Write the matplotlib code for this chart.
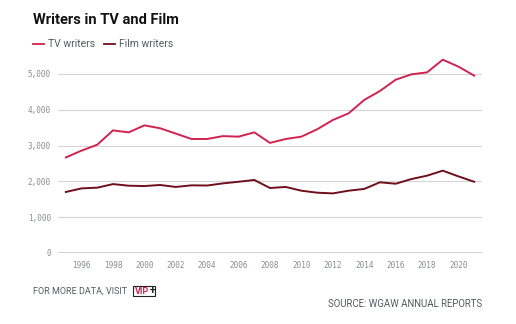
import matplotlib
matplotlib.use("Agg")
import matplotlib.pyplot as plt
from matplotlib.lines import Line2D

years = list(range(1995, 2022))
tv_writers = [2670, 2860, 3025, 3425, 3370, 3565, 3485, 3335, 3185, 3185, 3265, 3250, 3370,
              3075, 3185, 3250, 3455, 3715, 3900, 4275, 4525, 4840, 4990, 5045, 5400, 5205, 4955]
film_writers = [1705, 1805, 1825, 1925, 1880, 1870, 1900, 1845, 1890, 1885, 1945, 1990, 2040,
                1815, 1845, 1740, 1685, 1665, 1740, 1790, 1975, 1935, 2065, 2160, 2300, 2140, 1990]
x_ticks = list(range(1996, 2021, 2))
y_ticks = [0, 1000, 2000, 3000, 4000, 5000]
series_names = ["TV writers", "Film writers"]
colors = ["#d0234f", "#6e0f1c"]

W, H = 516, 324
fig = plt.figure(figsize=(W/100, H/100), dpi=100)
ax = fig.add_axes([58/W, 1-253/H, (482-58)/W, (253-45)/H])

ax.plot(years, tv_writers, color=colors[0], lw=1.4, solid_joinstyle="round")
ax.plot(years, film_writers, color=colors[1], lw=1.4, solid_joinstyle="round")

ax.set_xlim(1994.5, 2021.5)
ymax = 5000 * (253-45) / (253-74)
ax.set_ylim(0, ymax)
ax.set_yticks(y_ticks)
ax.set_yticklabels([f"{v:,}" for v in y_ticks], family="DejaVu Sans Mono", fontsize=5.5, color="#888c94")
ax.set_xticks(x_ticks)
ax.set_xticklabels([str(v) for v in x_ticks], family="DejaVu Sans Mono", fontsize=5.5, color="#888c94")
ax.tick_params(axis="both", length=0)
ax.tick_params(axis="y", pad=5)
ax.tick_params(axis="x", pad=6)
for v in y_ticks[1:]:
    ax.axhline(v, color="#d4d4d4", lw=0.8, zorder=0)
ax.axhline(0, color="#222222", lw=1.0)
for s in ax.spines.values():
    s.set_visible(False)
ax.set_facecolor("none")

fig.text(33/W, 1-20/H, "Writers in TV and Film", fontsize=10.5, fontweight="bold",
         family="Roboto", va="center", ha="left", color="#111111")

# legend
for name, c, xs in zip(series_names, colors, [33, 104]):
    fig.add_artist(Line2D([xs/W, (xs+11)/W], [1-44/H, 1-44/H], color=c, lw=1.3))
    fig.text((xs+15)/W, 1-44/H, name, fontsize=7.5, family="Roboto", color="#555a62",
             va="center", ha="left")

fig.text(33/W, 1-291/H, "FOR MORE DATA, VISIT", fontsize=6.5, family="Roboto",
         color="#555a62", va="center", ha="left")
t1 = fig.text(135/W, 1-291/H, "VIP", fontsize=6.5, family="Roboto", fontweight="bold",
              color="#d0234f", va="center", ha="left")
fig.canvas.draw()
bb = t1.get_window_extent()
fig.text((bb.x1 + 0.5)/W, 1-291/H, "+", fontsize=7.5, family="Roboto", fontweight="bold",
         color="#222222", va="center", ha="left")
fig.add_artist(plt.Rectangle((132.5/W, 1-296/H), 22.5/W, 10/H, fill=False,
                             edgecolor="#222222", lw=0.8, transform=fig.transFigure))

fig.text(482/W, 1-304/H, "SOURCE: WGAW ANNUAL REPORTS", fontsize=6.9, family="Roboto",
         color="#555a62", va="center", ha="right")

fig.savefig("out.png", dpi=100, facecolor="white")
